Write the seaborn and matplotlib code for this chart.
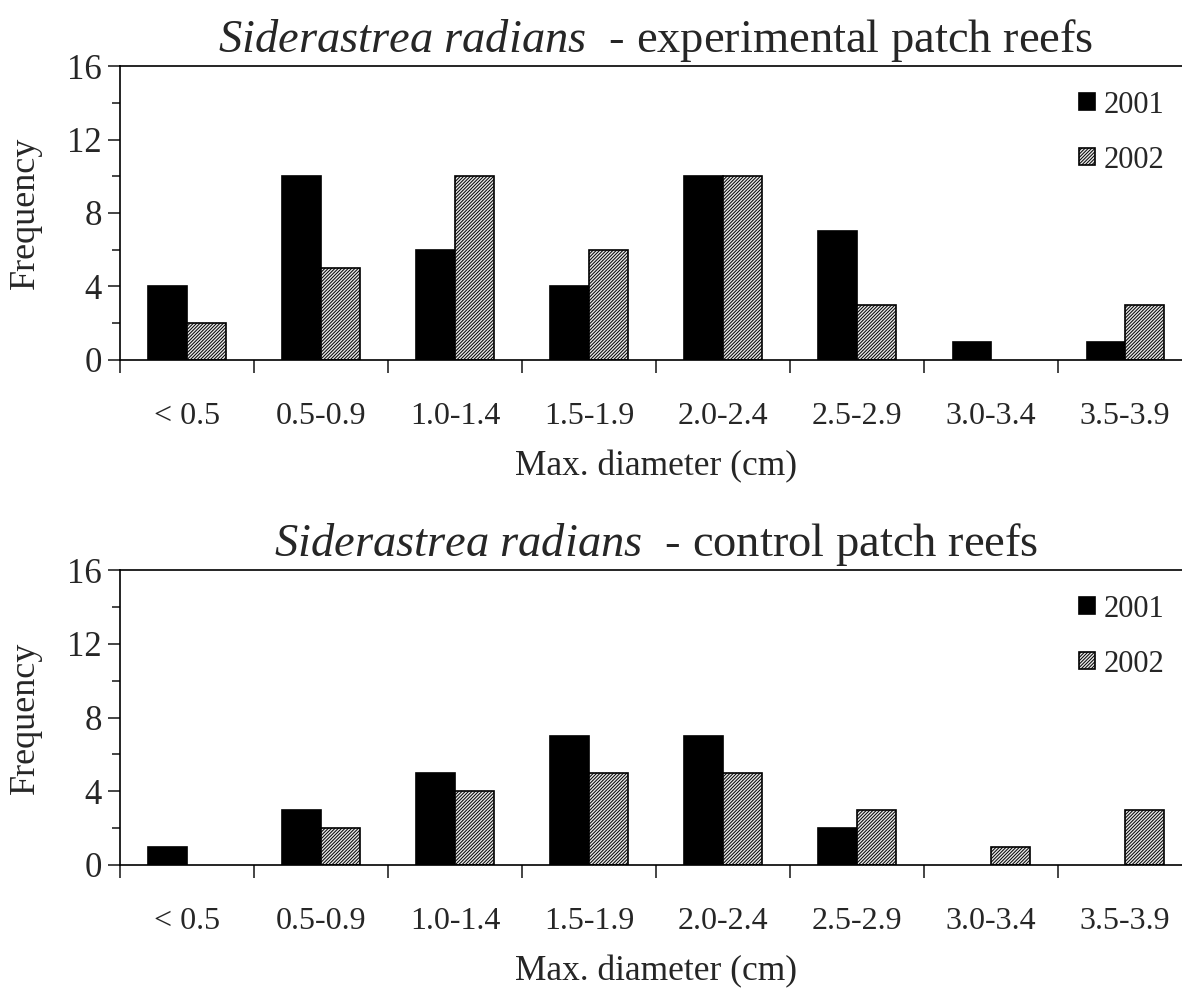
import matplotlib
matplotlib.use("Agg")
import matplotlib.pyplot as plt
from matplotlib.ticker import MultipleLocator, FixedLocator
import pandas as pd
import seaborn as sns

categories = ["< 0.5", "0.5-0.9", "1.0-1.4", "1.5-1.9", "2.0-2.4", "2.5-2.9", "3.0-3.4", "3.5-3.9"]
years = ["2001", "2002"]

exp_2001 = [4, 10, 6, 4, 10, 7, 1, 1]
exp_2002 = [2, 5, 10, 6, 10, 3, 0, 3]
ctl_2001 = [1, 3, 5, 7, 7, 2, 0, 0]
ctl_2002 = [0, 2, 4, 5, 5, 3, 1, 3]

titles = [
    r"$\mathit{Siderastrea\ radians}$  - experimental patch reefs",
    r"$\mathit{Siderastrea\ radians}$  - control patch reefs",
]


def make_frame(v01, v02):
    return pd.DataFrame({
        "Size": categories * 2,
        "Year": [years[0]] * len(categories) + [years[1]] * len(categories),
        "Frequency": v01 + v02,
    })


sns.set_theme(style="white")
plt.rcParams["font.family"] = ["Liberation Serif", "DejaVu Serif"]
plt.rcParams["mathtext.fontset"] = "custom"
plt.rcParams["mathtext.it"] = "Liberation Serif:italic"
plt.rcParams["mathtext.rm"] = "Liberation Serif"
plt.rcParams["hatch.color"] = "#444444"
plt.rcParams["hatch.linewidth"] = 0.7

HATCH = "//////////"

fig = plt.figure(figsize=(11.82, 9.9), dpi=100)
ax_rects = [
    [0.1015, 0.6364, 0.907, 0.2969],
    [0.1015, 0.1263, 0.907, 0.2979],
]
datasets = [(exp_2001, exp_2002), (ctl_2001, ctl_2002)]

for rect, (v01, v02), title in zip(ax_rects, datasets, titles):
    ax = fig.add_axes(rect)
    df = make_frame(v01, v02)
    sns.barplot(
        data=df, x="Size", y="Frequency", hue="Year",
        palette=["black", "#e6e6e6"], width=0.575, gap=0,
        edgecolor="black", linewidth=1.2, ax=ax, legend=True,
    )
    for bar in ax.containers[1]:
        bar.set_hatch(HATCH)
    for cont in ax.containers:
        for bar in cont:
            if bar.get_height() == 0:
                bar.set_linewidth(0)

    ax.set_xlim(-0.5, len(categories) - 0.5)
    ax.set_ylim(0, 16)
    ax.yaxis.set_major_locator(MultipleLocator(4))
    ax.yaxis.set_minor_locator(MultipleLocator(2))
    ax.tick_params(axis="y", which="major", direction="out", length=9, width=1.2,
                   labelsize=25, pad=4, left=True)
    ax.tick_params(axis="y", which="minor", direction="out", length=6, width=1.2, left=True)

    # category boundary ticks, labels centred in between
    ax.xaxis.set_minor_locator(FixedLocator([i - 0.5 for i in range(len(categories) + 1)]))
    ax.tick_params(axis="x", which="minor", direction="out", length=9, width=1.2, bottom=True)
    ax.tick_params(axis="x", which="major", length=0, labelsize=23, pad=30, bottom=False)

    for side in ["left", "bottom", "top", "right"]:
        ax.spines[side].set_color("black")
        ax.spines[side].set_linewidth(1.2)

    ax.set_xlabel("Max. diameter (cm)", fontsize=25.5, labelpad=14)
    ax.set_ylabel("Frequency", fontsize=26, labelpad=18)
    ax.set_title(title, fontsize=33.5, pad=10)

    leg = ax.legend(loc="upper right", bbox_to_anchor=(1.0, 1.01), frameon=False,
                    fontsize=22, handlelength=0.5, handleheight=0.5, handletextpad=0.3,
                    labelspacing=0.85)
    leg.legend_handles[1].set_hatch(HATCH)
    for h in leg.legend_handles:
        h.set_edgecolor("black")

fig.savefig("out.png", dpi=100)
